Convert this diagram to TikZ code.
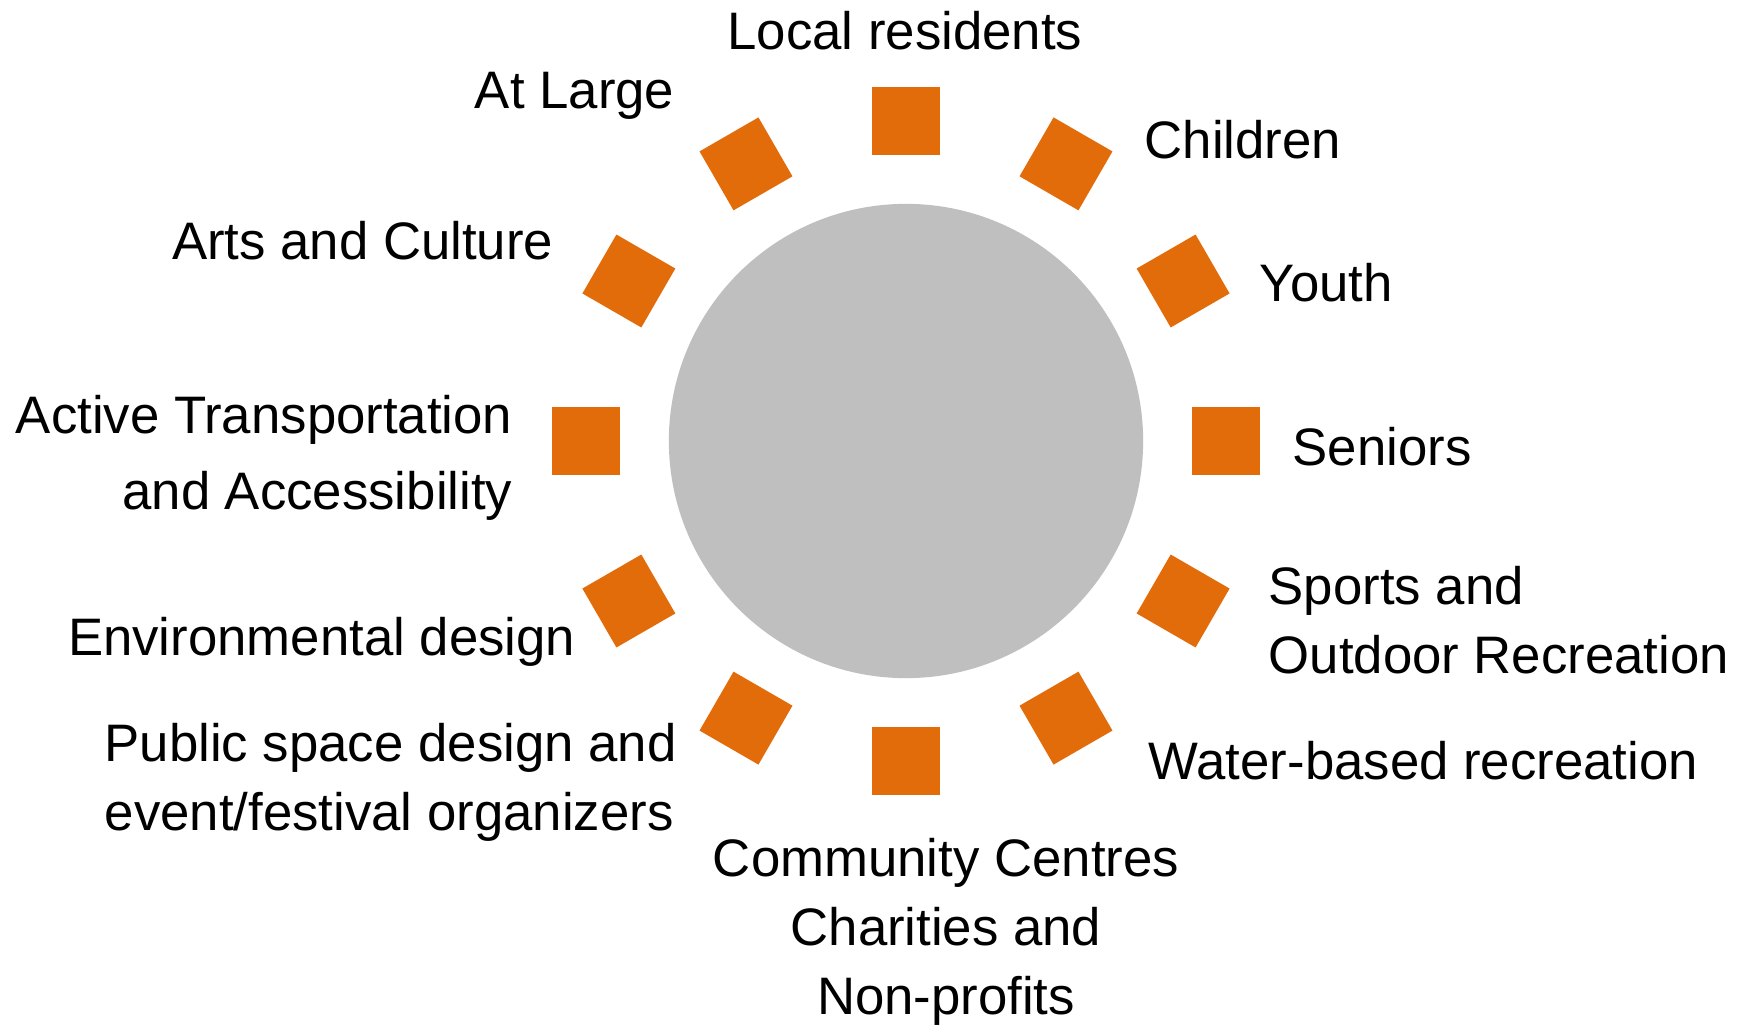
\documentclass[tikz,border=0pt]{standalone}
\usepackage{fontspec}
\setmainfont{Liberation Sans}
\usepackage{xcolor}
\usepackage{tikz}
\usetikzlibrary{calc}
\definecolor{hubgray}{HTML}{BFBFBF}
\definecolor{tileorange}{HTML}{E36C0A}
\tikzset{
  tile/.style={fill=tileorange, draw=none, minimum size=0.68cm, inner sep=0pt},
  lbl/.style={font=\fontsize{15}{19.5}\selectfont, inner sep=0pt},
}

\begin{document}
\begin{tikzpicture}[x=0.01cm, y=0.01cm]
          \useasboundingbox (0,0) rectangle (1750,1026);
          \fill[white] (0,0) rectangle (1750,1026);
          \node[circle, fill=hubgray, minimum size=4.74cm, inner sep=0pt] (hub) at (906,585) {};
          % tiles round the hub
          \foreach \a in {0,30,...,330}
            \node[tile, rotate=\a] (sq\a) at ($(hub.center)+(\a:320)$) {};
          \node[lbl, anchor=base] (local) at (905,976) {Local residents};
          \node[lbl, anchor=base east] (atlarge) at (675,918) {At Large};
          \node[lbl, anchor=base west] (children) at (1144,868) {Children};
          \node[lbl, anchor=base east] (arts) at (554,767) {Arts and Culture};
          \node[lbl, anchor=base west] (youth) at (1259,725) {Youth};
          \node[lbl, anchor=base east, align=right, font=\fontsize{15}{21.6}\selectfont] (active) at (513,517) {Active Transportation\\and Accessibility};
          \node[lbl, anchor=base west] (seniors) at (1292,561) {Seniors};
          \node[lbl, anchor=base east] (envdesign) at (576,371) {Environmental design};
          \node[lbl, anchor=base west, align=left] (sports) at (1268,353) {Sports and\\Outdoor Recreation};
          \node[lbl, anchor=base west, align=left] (publicspace) at (104,196) {Public space design and\\event/festival organizers};
          \node[lbl, anchor=base west] (water) at (1148,247) {Water-based recreation};
          \node[lbl, anchor=base, align=center] (community) at (946,12) {Community Centres\\Charities and\\Non-profits};
        \end{tikzpicture}
\end{document}
